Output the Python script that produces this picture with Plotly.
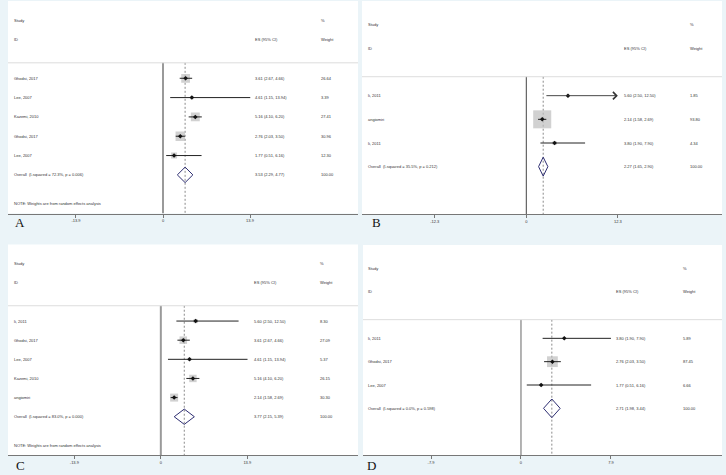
import math
import plotly.graph_objects as go

# ---------------- data ----------------
studies_A = ["Ghodsi, 2017", "Lee, 2007", "Kazemi, 2010", "Ghodsi, 2017", "Lee, 2007"]
es_A = [3.61, 4.61, 5.16, 2.76, 1.77]
lo_A = [2.67, 1.15, 4.10, 2.03, 0.51]
hi_A = [4.66, 13.94, 6.20, 3.50, 6.16]
w_A = [26.64, 3.39, 27.41, 30.96, 12.30]
overall_A = [3.53, 2.29, 4.77]
het_A = ["72.3%", "0.006"]

studies_B = ["li, 2011", "angiomiri", "li, 2011"]
es_B = [5.60, 2.14, 3.80]
lo_B = [2.50, 1.58, 1.90]
hi_B = [12.50, 2.69, 7.90]
w_B = [1.85, 93.80, 4.34]
overall_B = [2.27, 1.65, 2.90]
het_B = ["35.5%", "0.212"]

studies_C = ["li, 2011", "Ghodsi, 2017", "Lee, 2007", "Kazemi, 2010", "angiomiri"]
es_C = [5.60, 3.61, 4.61, 5.16, 2.14]
lo_C = [2.50, 2.67, 1.15, 4.10, 1.58]
hi_C = [12.50, 4.66, 13.94, 6.20, 2.69]
w_C = [8.30, 27.09, 5.37, 26.15, 30.30]
overall_C = [3.77, 2.15, 5.39]
het_C = ["83.0%", "0.000"]

studies_D = ["li, 2011", "Ghodsi, 2017", "Lee, 2007"]
es_D = [3.80, 2.76, 1.77]
lo_D = [1.90, 2.03, 0.51]
hi_D = [7.90, 3.50, 6.16]
w_D = [5.89, 87.45, 6.66]
overall_D = [2.71, 1.98, 3.44]
het_D = ["0.0%", "0.598"]

tick_A, tick_B, tick_C, tick_D = 13.9, 12.3, 13.9, 7.9
note_text = "NOTE: Weights are from random effects analysis"

# ---------------- layout config ----------------
W, H = 726, 475
panels = [
    dict(letter="A", studies=studies_A, es=es_A, lo=lo_A, hi=hi_A, w=w_A, ov=overall_A, het=het_A,
         tick=tick_A, note=True, xr=[-24.76, 31.15], px=(8, 358), py=(1, 213.5), k=1.7,
         zc="#9a9a9a", zw=2, cols=(0.011, 0.70, 0.889), lpos=(20, 223)),
    dict(letter="B", studies=studies_B, es=es_B, lo=lo_B, hi=hi_B, w=w_B, ov=overall_B, het=het_B,
         tick=tick_B, note=False, xr=[-22.08, 26.3], px=(362, 722), py=(1, 214), k=1.86,
         zc="#444444", zw=1, cols=(0.011, 0.722, 0.906), lpos=(376, 222)),
    dict(letter="C", studies=studies_C, es=es_C, lo=lo_C, hi=hi_C, w=w_C, ov=overall_C, het=het_C,
         tick=tick_C, note=True, xr=[-24.57, 31.7], px=(8, 358), py=(244.5, 455), k=1.45,
         zc="#9a9a9a", zw=2, cols=(0.011, 0.697, 0.886), lpos=(20, 465)),
    dict(letter="D", studies=studies_D, es=es_D, lo=lo_D, hi=hi_D, w=w_D, ov=overall_D, het=het_D,
         tick=tick_D, note=False, xr=[-13.87, 17.65], px=(363, 722), py=(245, 455), k=1.15,
         zc="#9a9a9a", zw=1.5, cols=(0.008, 0.70, 0.886), lpos=(371, 465)),
]

TXT = dict(family="Arial, Liberation Sans, sans-serif", size=4, color="#333333")
NAVY = "#2e2e72"

fig = go.Figure()
annotations = []
shapes = []
layout_axes = {}

for i, p in enumerate(panels):
    sfx = "" if i == 0 else str(i + 1)
    xa, ya = "x" + sfx, "y" + sfx
    n = len(p["studies"])
    rows = list(range(n))
    ov_row = n
    ybot = n + 2
    hline_y = -0.8
    t = p["tick"]

    # zero line
    fig.add_trace(go.Scatter(x=[0, 0], y=[hline_y, ybot], mode="lines",
                             line=dict(color=p["zc"], width=p["zw"]),
                             xaxis=xa, yaxis=ya, hoverinfo="skip", showlegend=False))
    # dashed overall line
    fig.add_trace(go.Scatter(x=[p["ov"][0]] * 2, y=[hline_y, ybot], mode="lines",
                             line=dict(color="#8a8a8a", width=1, dash="2px,2px"),
                             xaxis=xa, yaxis=ya, hoverinfo="skip", showlegend=False))
    # weight boxes
    fig.add_trace(go.Scatter(x=p["es"], y=rows, mode="markers",
                             marker=dict(symbol="square", color="#bdbdbd",
                                         size=[p["k"] * math.sqrt(w) for w in p["w"]],
                                         line=dict(width=0)),
                             xaxis=xa, yaxis=ya, hoverinfo="skip", showlegend=False))
    # CI lines
    cx, cy = [], []
    for r, lo, hi in zip(rows, p["lo"], p["hi"]):
        if hi > t + 0.05:
            annotations.append(dict(x=t, y=r, ax=lo, ay=r, xref=xa, yref=ya,
                                    axref=xa, ayref=ya, text="", showarrow=True,
                                    arrowhead=4, arrowsize=1.6, arrowwidth=0.9,
                                    arrowcolor="#333333", standoff=0, startstandoff=0))
        else:
            cx += [lo, hi, None]
            cy += [r, r, None]
    fig.add_trace(go.Scatter(x=cx, y=cy, mode="lines", line=dict(color="#222222", width=1),
                             xaxis=xa, yaxis=ya, hoverinfo="skip", showlegend=False))
    # point estimates
    fig.add_trace(go.Scatter(x=p["es"], y=rows, mode="markers",
                             marker=dict(symbol="diamond", color="#111111", size=3.5),
                             xaxis=xa, yaxis=ya, hoverinfo="skip", showlegend=False))
    # overall diamond
    es0, lo0, hi0 = p["ov"]
    h = 0.4
    fig.add_trace(go.Scatter(x=[lo0, es0, hi0, es0, lo0],
                             y=[ov_row, ov_row - h, ov_row, ov_row + h, ov_row],
                             mode="lines", line=dict(color=NAVY, width=1),
                             xaxis=xa, yaxis=ya, hoverinfo="skip", showlegend=False))

    # header separator
    shapes.append(dict(type="line", xref=xa + " domain", x0=0, x1=1, yref=ya,
                       y0=hline_y, y1=hline_y, line=dict(color="#dddddd", width=1)))

    c0, c1, c2 = p["cols"]
    def txt(xf, y, s):
        annotations.append(dict(xref=xa + " domain", x=xf, yref=ya, y=y, text=s,
                                showarrow=False, xanchor="left", yanchor="middle",
                                font=TXT))
    txt(c0, -3, "Study")
    txt(c0, -2, "ID")
    txt(c1, -2, "ES (95% CI)")
    txt(c2, -3, "%")
    txt(c2, -2, "Weight")
    for r, s, e, lo, hi, w in zip(rows, p["studies"], p["es"], p["lo"], p["hi"], p["w"]):
        txt(c0, r, s)
        txt(c1, r, f"{e:.2f} ({lo:.2f}, {hi:.2f})")
        txt(c2, r, f"{w:.2f}")
    txt(c0, ov_row, f"Overall  (I-squared = {p['het'][0]}, p = {p['het'][1]})")
    txt(c1, ov_row, f"{es0:.2f} ({lo0:.2f}, {hi0:.2f})")
    txt(c2, ov_row, "100.00")
    if p["note"]:
        txt(c0, ov_row + 1.5, note_text)

    # panel letter
    annotations.append(dict(xref="paper", yref="paper", x=p["lpos"][0] / W,
                            y=1 - p["lpos"][1] / H, text=p["letter"], showarrow=False,
                            xanchor="center", yanchor="middle",
                            font=dict(family="Liberation Serif, Times New Roman, serif",
                                      size=13, color="#111111")))

    x0, x1 = p["px"]
    y0, y1 = p["py"]
    layout_axes["xaxis" + sfx] = dict(
        domain=[x0 / W, x1 / W], range=p["xr"], anchor=ya,
        tickvals=[-t, 0, t], ticktext=[f"-{t}", "0", f"{t}"],
        showline=True, linecolor="#777777", linewidth=1, mirror=False,
        ticks="outside", ticklen=3, tickcolor="#777777", tickwidth=1,
        showgrid=False, zeroline=False, fixedrange=True,
        tickfont=dict(family="Arial, Liberation Sans, sans-serif", size=4, color="#333333"))
    layout_axes["yaxis" + sfx] = dict(
        domain=[1 - y1 / H, 1 - y0 / H], range=[ybot, -4], anchor=xa,
        visible=False, showgrid=False, zeroline=False, fixedrange=True)

fig.update_layout(
    width=W, height=H, autosize=False,
    margin=dict(l=0, r=0, t=0, b=0),
    paper_bgcolor="#ebf4f8", plot_bgcolor="#ffffff",
    showlegend=False, annotations=annotations, shapes=shapes,
    **layout_axes)

fig.write_html("out.html", config={"displayModeBar": False},
               post_script="document.body.style.margin='0';document.body.style.overflow='hidden';")
